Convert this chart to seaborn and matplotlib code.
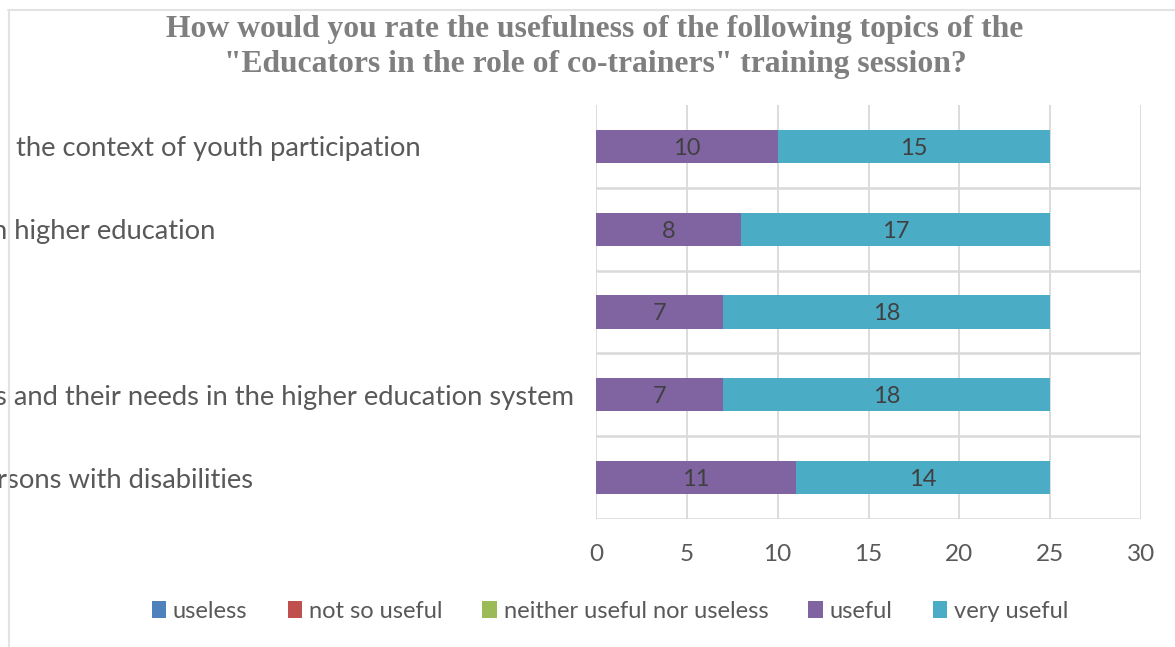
import matplotlib
matplotlib.use("Agg")
import matplotlib.pyplot as plt
import matplotlib.transforms as mtransforms
from matplotlib.patches import Patch
from matplotlib.lines import Line2D
import seaborn as sns
import pandas as pd

# Survey topics (as shown in the label column) and answer counts
topics = [
    "the context of youth participation",
    "n higher education",
    "",
    "s and their needs in the higher education system",
    "rsons with disabilities",
]
series_names = ["useless", "not so useful", "neither useful nor useless", "useful", "very useful"]
useless = [0, 0, 0, 0, 0]
not_so_useful = [0, 0, 0, 0, 0]
neither = [0, 0, 0, 0, 0]
useful = [10, 8, 7, 7, 11]
very_useful = [15, 17, 18, 18, 14]
ticks = [0, 5, 10, 15, 20, 25, 30]

colors = ["#4F81BD", "#C0504D", "#9BBB59", "#8064A2", "#4BACC6"]
GRID = "#D9D9D9"
TEXT = "#595959"

W, H = 1175, 647
sns.set_theme(style="white")
plt.rcParams["font.family"] = ["Lato", "DejaVu Sans"]

fig = plt.figure(figsize=(W / 100, H / 100), dpi=100)
fig.patch.set_facecolor("white")


def fx(px):
    return px / W


def fy(py):
    return 1 - py / H


ax = fig.add_axes([fx(596), fy(519), fx(1141) - fx(596), fy(105) - fy(519)])

df = pd.DataFrame({
    "topic": range(len(topics)),
    "useless": useless,
    "not so useful": not_so_useful,
    "neither": neither,
    "useful": useful,
    "very useful": very_useful,
})
# cumulative stacks, drawn from the outermost segment inwards
df["cum_useful"] = df["useless"] + df["not so useful"] + df["neither"] + df["useful"]
df["cum_very"] = df["cum_useful"] + df["very useful"]

sns.barplot(data=df, x="cum_very", y="topic", orient="h", color=colors[4],
            width=0.4, saturation=1, ax=ax, native_scale=True, zorder=3)
sns.barplot(data=df, x="cum_useful", y="topic", orient="h", color=colors[3],
            width=0.4, saturation=1, ax=ax, native_scale=True, zorder=3)

for p in ax.patches:
    p.set_edgecolor("none")

ax.set_xlim(0, 30)
ax.set_ylim(len(topics) - 0.5, -0.5)
ax.set_xticks(ticks)
ax.set_yticks([])
ax.set_xlabel("")
ax.set_ylabel("")
for s in ax.spines.values():
    s.set_visible(False)

# gridlines: vertical at value ticks, horizontal between categories
for t in ticks:
    ax.axvline(t, color=GRID, lw=1.3, zorder=1)
for i in range(len(topics)):
    ax.axhline(i + 0.5, color=GRID, lw=1.8, zorder=1)

ax.tick_params(axis="x", length=0, pad=18, labelsize=17.5, labelcolor=TEXT)

# value labels centered in each segment
for i in range(len(topics)):
    left = df.loc[i, "cum_useful"] - useful[i]
    ax.text(left + useful[i] / 2, i, str(useful[i]), ha="center", va="center_baseline",
            fontsize=17, color="#404040", zorder=4)
    ax.text(df.loc[i, "cum_useful"] + very_useful[i] / 2, i, str(very_useful[i]),
            ha="center", va="center_baseline", fontsize=17, color="#404040", zorder=4)

# category labels, left aligned
label_x = [16, -8, 0, -5, -3]
trans = mtransforms.blended_transform_factory(fig.transFigure, ax.transData)
for i, (lab, lx) in enumerate(zip(topics, label_x)):
    ax.text(fx(lx), i, lab, transform=trans, ha="left", va="center_baseline",
            fontsize=19.7, color=TEXT, clip_on=False)

# title
fig.text(fx(595), fy(47), 'How would you rate the usefulness of the following topics of the\n'
         '"Educators in the role of co-trainers" training session?',
         ha="center", va="center", fontsize=22.8, fontweight="bold",
         family="Liberation Serif", color="#7F7F7F", linespacing=1.3)

# legend
handles = [Patch(facecolor=c, edgecolor="none") for c in colors]
fig.legend(handles, series_names, loc="center", bbox_to_anchor=(fx(610), fy(611)),
           ncol=5, frameon=False, fontsize=17, labelcolor=TEXT,
           handlelength=0.6, handleheight=0.75, handletextpad=0.3,
           columnspacing=1.7)

# chart frame edges
fig.add_artist(Line2D([fx(8), 1], [fy(10), fy(10)], color="#E3E3E3", lw=1.5))
fig.add_artist(Line2D([fx(9), fx(9)], [fy(10), 0], color="#E3E3E3", lw=1.5))

fig.savefig("out.png", dpi=100, facecolor="white")
